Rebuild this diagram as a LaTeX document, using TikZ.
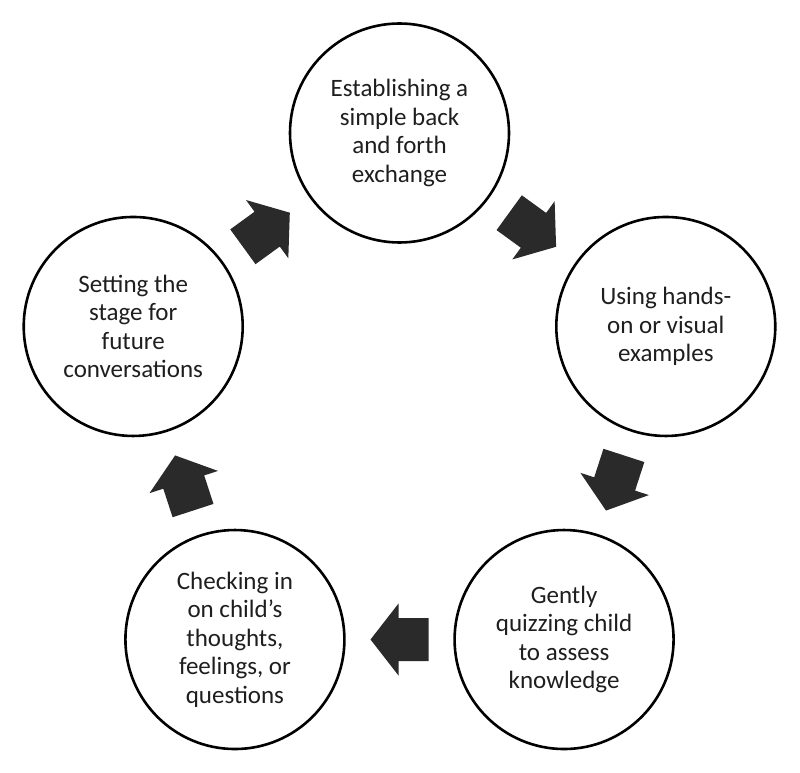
\documentclass[tikz,border=0pt]{standalone}
\usepackage{fontspec}
\setmainfont{Carlito}
\usetikzlibrary{calc}
\definecolor{ink}{HTML}{1E1E1E}
\definecolor{arrowfill}{HTML}{2A2A2A}
\begin{document}
\begin{tikzpicture}[x=1pt,y=1pt,
  stepcircle/.style={circle, draw=black, line width=2.6pt, minimum size=219pt, inner sep=0pt,
    align=center, text=ink, font=\fontsize{25}{28.5}\selectfont},
  blockarr/.pic={\fill[arrowfill] (-29,21.5) -- (1,21.5) -- (1,36) -- (29,0) -- (1,-36) -- (1,-21.5) -- (-29,-21.5) -- cycle;}
]
\useasboundingbox (0,0) rectangle (800,772);
\coordinate (c) at (399.5,359);
\node[stepcircle] (n1) at ($(c)+(90:280)$) {Establishing a\\simple back\\and forth\\exchange};
\node[stepcircle] (n2) at ($(c)+(18:280)$) {Using hands-\\on or visual\\examples};
\node[stepcircle] (n3) at ($(c)+(-54:280)$) {Gently\\quizzing child\\to assess\\knowledge};
\node[stepcircle] (n4) at ($(c)+(-126:280)$) {Checking in\\on child’s\\thoughts,\\feelings, or\\questions};
\node[stepcircle] (n5) at ($(c)+(162:280)$) {Setting the\\stage for\\future\\conversations};
\pic[rotate=-36] at ($(n1.center)!0.5!(n2.center)$) {blockarr};
\pic[rotate=-108] at ($(n2.center)!0.5!(n3.center)$) {blockarr};
\pic[rotate=180] at ($(n3.center)!0.5!(n4.center)$) {blockarr};
\pic[rotate=108] at ($(n4.center)!0.5!(n5.center)$) {blockarr};
\pic[rotate=36] at ($(n5.center)!0.5!(n1.center)$) {blockarr};
\end{tikzpicture}
\end{document}
